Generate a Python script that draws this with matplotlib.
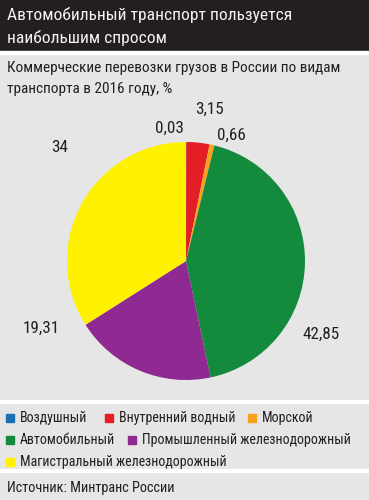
import matplotlib.pyplot as plt
from matplotlib.patches import Rectangle

plt.rcParams['font.family'] = ['Roboto Condensed', 'PT Sans Narrow', 'DejaVu Sans']

categories = ['Воздушный', 'Внутренний водный', 'Морской', 'Автомобильный',
              'Промышленный железнодорожный', 'Магистральный железнодорожный']
values = [0.03, 3.15, 0.66, 42.85, 19.31, 34]
labels = ['0,03', '3,15', '0,66', '42,85', '19,31', '34']
colors = ['#1a6fb5', '#e31e24', '#f7a21b', '#138a3c', '#8e2a91', '#fff200']

W, H = 369, 500
fig = plt.figure(figsize=(W / 100, H / 100), dpi=100)
fig.patch.set_facecolor('#e6e6e6')

def px(x, y):
    return x / W, 1 - y / H

# title bar
fig.patches.append(Rectangle((0, 1 - 50 / H), 1, 50 / H, transform=fig.transFigure,
                             color='#231f20', zorder=0))
for yy in (52, 401, 470):
    fig.patches.append(Rectangle((0, 1 - (yy + 1.5) / H), 1, 3 / H, transform=fig.transFigure,
                                 color='white', zorder=0))

fig.text(*px(7, 15), 'Автомобильный транспорт пользуется', color='#f2f2f2',
         fontsize=12.6, va='center', ha='left')
fig.text(*px(7, 38), 'наибольшим спросом', color='#f2f2f2',
         fontsize=12.6, va='center', ha='left')
fig.text(*px(7, 68), 'Коммерческие перевозки грузов в России по видам', color='#231f20',
         fontsize=11, va='center', ha='left')
fig.text(*px(7, 89), 'транспорта в 2016 году, %', color='#231f20',
         fontsize=11, va='center', ha='left')

# pie
cx, cy, r = 186, 261, 119
ax = fig.add_axes([(cx - r) / W, 1 - (cy + r) / H, 2 * r / W, 2 * r / H])
ax.pie(values, colors=colors, startangle=90, counterclock=False,
       wedgeprops=dict(linewidth=0))
ax.set_xlim(-1, 1)
ax.set_ylim(-1, 1)
ax.set_aspect('auto')
ax.axis('off')

label_pos = [(169, 128), (210, 109), (231, 135), (321, 334), (41, 328), (60, 147)]
for (x, y), t in zip(label_pos, labels):
    fig.text(*px(x, y), t, fontsize=12.3, color='#231f20', ha='center', va='center')

# legend
leg_rows = [[(6, 0), (105, 1), (248, 2)], [(6, 3), (128, 4)], [(6, 5)]]
leg_y = [418, 440, 462]
for row, y in zip(leg_rows, leg_y):
    for x, i in row:
        fig.patches.append(Rectangle(px(x, y + 4), 8 / W, 8 / H, transform=fig.transFigure,
                                     color=colors[i], zorder=1))
        fig.text(*px(x + 14, y), categories[i], fontsize=10, color='#231f20',
                 ha='left', va='center')

fig.text(*px(7, 488), 'Источник: Минтранс России', fontsize=10.3, color='#231f20',
         ha='left', va='center')

fig.savefig('out.png', dpi=100, facecolor=fig.get_facecolor())
